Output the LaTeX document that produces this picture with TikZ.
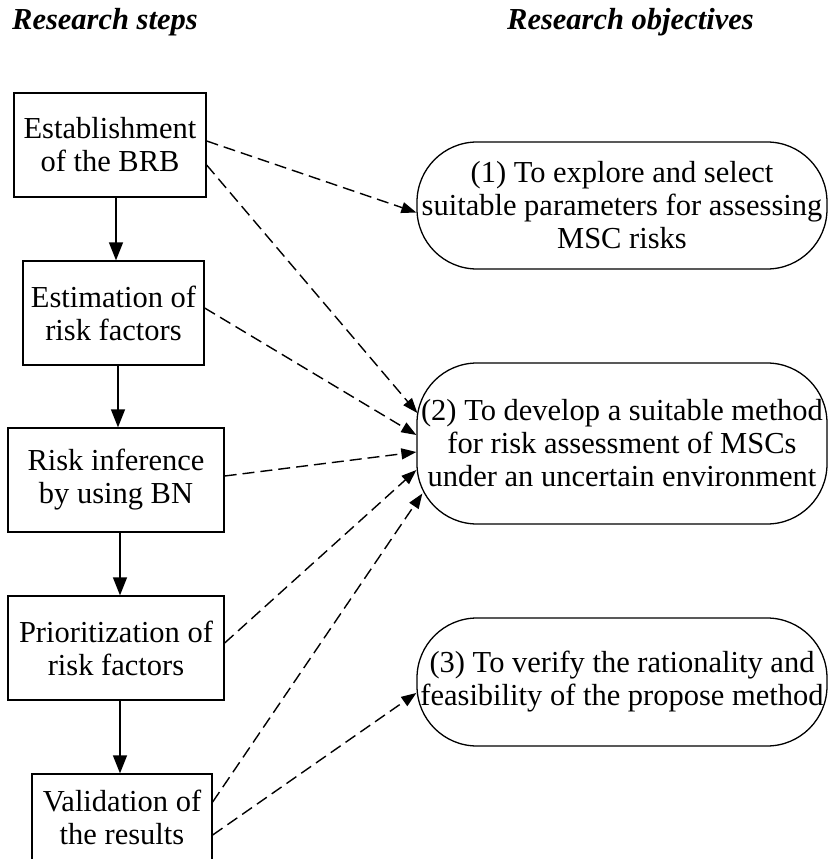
\documentclass[tikz,border=0pt]{standalone}
\usepackage{fontspec}
\setmainfont{Liberation Serif}
\usetikzlibrary{arrows.meta}
\tikzset{
  stepbox/.style={draw, line width=1.3pt, minimum height=104pt, inner sep=0pt, align=center,
                  font=\fontsize{30.5}{33}\selectfont},
  objbox/.style={draw, line width=1.3pt, rounded corners=60pt, minimum width=410pt, inner sep=0pt,
                 align=center, font=\fontsize{30.5}{33}\selectfont},
  header/.style={anchor=base west, inner sep=0pt, font=\fontsize{30.5}{33}\selectfont\bfseries\itshape},
  solidarrow/.style={line width=1.4pt, -{Triangle[length=18pt,width=14pt]}},
  dasharrow/.style={line width=1.4pt, dash pattern=on 12pt off 6pt, -{Triangle[length=15pt,width=11pt]}}
}
\begin{document}
\begin{tikzpicture}[x=1pt,y=-1pt]
\useasboundingbox (0,0) rectangle (829,859);
\clip (0,0) rectangle (829,859);

\node[header] (h1) at (12,30) {Research steps};
\node[header] (h2) at (507,30) {Research objectives};

\node[stepbox, minimum width=192pt] (b1) at (110,145) {Establishment\\of the BRB};
\node[stepbox, minimum width=181pt] (b2) at (113.5,313) {Estimation of\\risk factors};
\node[stepbox, minimum width=216pt] (b3) at (116,480) {Risk inference\\by using BN};
\node[stepbox, minimum width=216pt] (b4) at (116,648) {Prioritization of\\risk factors};
\node[stepbox, minimum width=180pt, minimum height=86pt] (b5) at (122,817) {Validation of\\the results};

\node[objbox, minimum height=127pt] (o1) at (622,205.5) {(1) To explore and select\\suitable parameters for assessing\\MSC risks};
\node[objbox, minimum height=161pt] (o2) at (622,443.5) {(2) To develop a suitable method\\for risk assessment of MSCs\\under an uncertain environment};
\node[objbox, minimum height=128pt] (o3) at (622,682) {(3) To verify the rationality and\\feasibility of the propose method};

% vertical flow
\draw[solidarrow] (b1.south -| 116,0) -- (116,0 |- b2.north);
\draw[solidarrow] (b2.south -| 118,0) -- (118,0 |- b3.north);
\draw[solidarrow] (b3.south -| 120,0) -- (120,0 |- b4.north);
\draw[solidarrow] (b4.south -| 120,0) -- (120,0 |- b5.north);

% dashed links
\draw[dasharrow] ([yshift=4pt]b1.east) -- ([yshift=-7pt]o1.west);
\draw[dasharrow] ([yshift=-20pt]b1.east) -- ([xshift=1pt,yshift=30.5pt]o2.west);
\draw[dasharrow] ([yshift=5pt]b2.east) -- ([yshift=8.5pt]o2.west);
\draw[dasharrow] ([yshift=4pt]b3.east) -- ([yshift=-8.5pt]o2.west);
\draw[dasharrow] ([yshift=5pt]b4.east) -- ([yshift=-26.5pt]o2.west);
\draw[dasharrow] ([yshift=15pt]b5.east) -- ([xshift=6pt,yshift=-50pt]o2.west);
\draw[dasharrow] ([yshift=-18pt]b5.east) -- ([yshift=-11pt]o3.west);
\end{tikzpicture}
\end{document}
